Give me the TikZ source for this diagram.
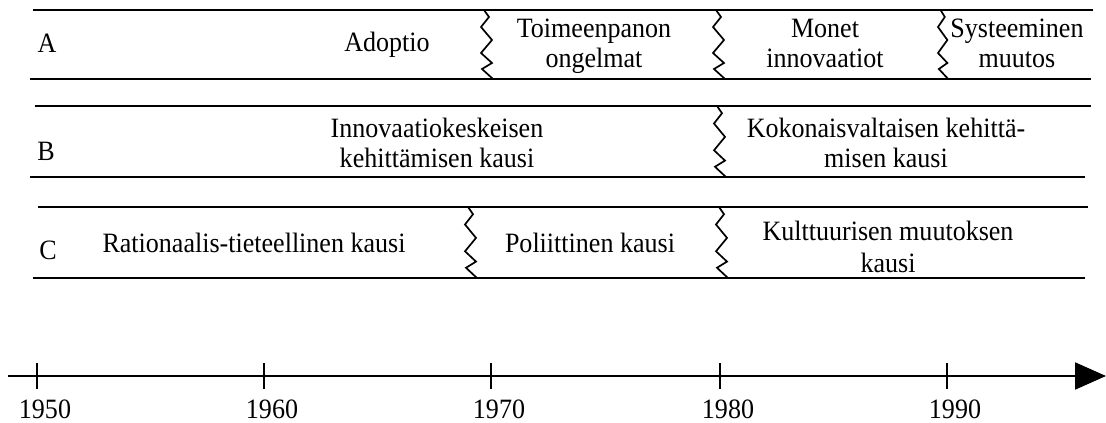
\documentclass[tikz,border=0pt]{standalone}
\usepackage{fontspec}
\setmainfont{Liberation Serif}[FakeStretch=0.93]
\usetikzlibrary{arrows.meta}
\begin{document}
\begin{tikzpicture}[x=1pt,y=-1pt,
  band/.style={line width=2pt},
  zigline/.style={line width=1.7pt, line join=miter},
  lbl/.style={inner sep=0pt, align=center, font=\fontsize{28}{30}\selectfont},
  axis/.style={line width=2pt, -{Triangle[length=31pt,width=27pt]}},
  yeartick/.style={line width=2pt},
  zig/.pic={\draw[zigline] (3,0) -- (8,7) -- (0,17) -- (11,30) -- (0,43)
            -- (11,53) -- (1,59) -- (12,69);}
]
\useasboundingbox (0,0) rectangle (1106,423);

% ---- row A ----
\draw[band] (33,10) -- (1093,10);
\draw[band] (30,79) -- (1091,79);
\pic at (481,10) {zig};
\pic at (713,10) {zig};
\pic[xscale=0.85] at (938,10) {zig};
\node[lbl] (la) at (47,43) {A};
\node[lbl] (adop) at (387,45) {Adoptio};
\node[lbl] (toim) at (594,46) {Toimeenpanon\\ongelmat};
\node[lbl] (mone) at (825,43) {Monet\\innovaatiot};
\node[lbl] (syst) at (1017,43) {Systeeminen\\muutos};

% ---- row B ----
\draw[band] (35,106) -- (1091,106);
\draw[band] (30,177) -- (1085,177);
\pic[yscale=1.03] at (714,106) {zig};
\node[lbl] (lb) at (46,151) {B};
\node[lbl] (inno) at (437,143) {Innovaatiokeskeisen\\kehittämisen kausi};
\node[lbl] (koko) at (886,143) {Kokonaisvaltaisen kehittä-\\misen kausi};

% ---- row C ----
\draw[band] (38,207) -- (1088,207);
\draw[band] (33,278) -- (1085,278);
\pic[yscale=1.03] at (465,207) {zig};
\pic[yscale=1.03] at (716,207) {zig};
\node[lbl] (lc) at (48,250) {C};
\node[lbl] (rati) at (254,243) {Rationaalis-tieteellinen kausi};
\node[lbl] (poli) at (590,243) {Poliittinen kausi};
\node[lbl] (kult) at (888,247) {Kulttuurisen muutoksen\\[2pt]kausi};

% ---- time axis ----
\coordinate (axL) at (8,376);
\coordinate (axR) at (1106,376);
\draw[axis] (axL) -- (axR);
\foreach \yr/\px in {1950/37, 1960/264, 1970/491, 1980/720, 1990/947} {
  \coordinate (t\yr) at (\px,376);
  \draw[yeartick] ([yshift=-13pt]t\yr) -- ([yshift=13pt]t\yr);
  \node[lbl] (y\yr) at (\px+8,409) {\yr};
}
\end{tikzpicture}
\end{document}
